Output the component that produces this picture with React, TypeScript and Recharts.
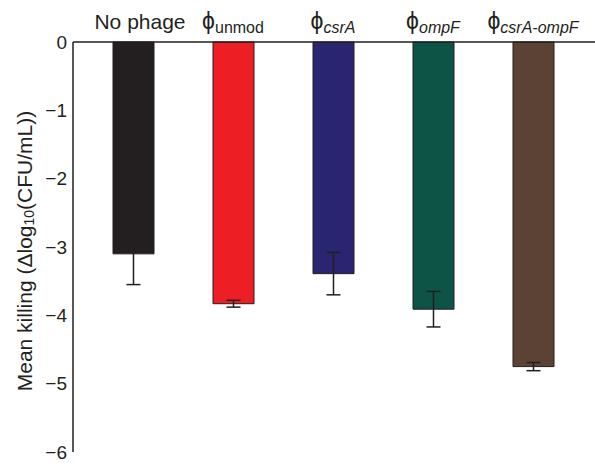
import React from 'react';
import { BarChart, Bar, XAxis, YAxis, ErrorBar, Cell } from 'recharts';

const categories = ['No phage', 'unmod', 'csrA', 'ompF', 'csrA-ompF'];
const hasPhi = [false, true, true, true, true];
const italicSub = [false, false, true, true, true];
const means = [-3.1, -3.83, -3.39, -3.91, -4.75];
const errors = [0.45, 0.05, 0.31, 0.26, 0.06];
const colors = ['#231f20', '#ed1f24', '#2a2570', '#0e5446', '#5c4234'];
const yTicks = [0, -1, -2, -3, -4, -5, -6];

const data = categories.map((c, i) => ({ name: c, mean: means[i], err: errors[i] }));

const FONT = '"Liberation Sans", Arial, Helvetica, sans-serif';
const INK = '#231f20';

const XTick = (props: any) => {
  const { x, payload, index } = props;
  const i = typeof index === 'number' ? index : categories.indexOf(payload.value);
  if (!hasPhi[i]) {
    return (
      <text x={x + 7} y={29} textAnchor="middle" fontFamily={FONT} fontSize={21} fill={INK}>
        {payload.value}
      </text>
    );
  }
  return (
    <text x={x} y={29} textAnchor="middle" fontFamily={FONT} fill={INK}>
      <tspan fontSize={23}>{'\u03D5'}</tspan>
      <tspan fontSize={16} dy={4} fontStyle={italicSub[i] ? 'italic' : 'normal'}>
        {payload.value}
      </tspan>
    </text>
  );
};

const YLabel = (props: any) => {
  const cx = 24;
  const cy = 251;
  return (
    <text
      x={cx}
      y={cy}
      transform={`rotate(-90, ${cx}, ${cy})`}
      textAnchor="middle"
      dominantBaseline="central"
      fontFamily={FONT}
      fontSize={21}
      fill={INK}
    >
      <tspan>Mean killing (Δlog</tspan>
      <tspan fontSize={14} dy={5}>10</tspan>
      <tspan dy={-5}>(CFU/mL))</tspan>
    </text>
  );
};

const fmt = (v: number) => (v < 0 ? '\u2212' + Math.abs(v) : String(v));

export default function App() {
  return (
    <div style={{ position: 'absolute', left: 0, top: 0, width: 595, height: 471, background: '#fff' }}>
      <BarChart
        width={595}
        height={471}
        data={data}
        margin={{ top: 0, right: 0, bottom: 19, left: 0 }}
        barSize={41}
      >
        <XAxis
          dataKey="name"
          orientation="top"
          height={42}
          axisLine={{ stroke: INK, strokeWidth: 1.5 }}
          tickLine={false}
          tickSize={0}
          tick={<XTick />}
          interval={0}
          padding={{ left: 10, right: 12 }}
        />
        <YAxis
          domain={[-6, 0]}
          ticks={yTicks}
          interval={0}
          width={73}
          axisLine={{ stroke: INK, strokeWidth: 1.5 }}
          tickLine={false}
          tickSize={0}
          tickMargin={6}
          tickFormatter={fmt}
          tick={{ fontFamily: FONT, fontSize: 19, fill: INK }}
          label={<YLabel />}
        />
        <Bar dataKey="mean" isAnimationActive={false} stroke={INK} strokeWidth={1}>
          {data.map((d, i) => (
            <Cell key={d.name} fill={colors[i]} />
          ))}
          <ErrorBar dataKey="err" width={7} stroke={INK} strokeWidth={1.5} direction="y" />
        </Bar>
      </BarChart>
    </div>
  );
}
